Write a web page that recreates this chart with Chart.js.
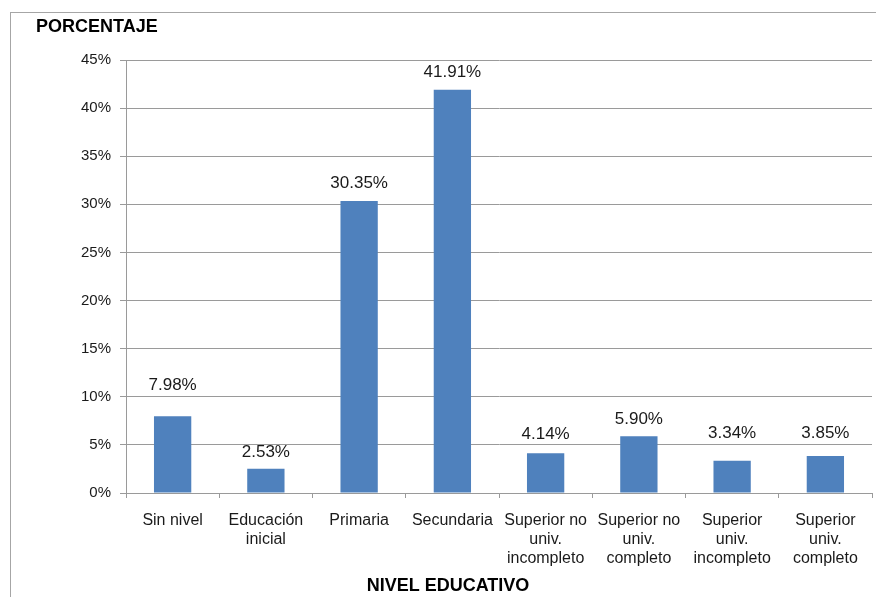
<!DOCTYPE html>
<html>
<head>
<meta charset="utf-8">
<script src="https://cdn.jsdelivr.net/npm/chart.js@4/dist/chart.umd.min.js"></script>
<style>
  html, body { margin: 0; padding: 0; background: #fff; overflow: hidden; }
  #frame { position: absolute; left: 10px; top: 12px; width: 900px; height: 600px; border: 1px solid #a6a6a6; }
  #wrap { position: absolute; left: 0; top: 0; width: 876px; height: 597px; }
</style>
</head>
<body>
<div id="frame"></div>
<div id="wrap"><canvas id="chart"></canvas></div>
<script>
// ── Data ──────────────────────────────────────────────────────────────────────
const categories = [
    "Sin nivel",
    ["Educación", "inicial"],
    "Primaria",
    "Secundaria",
    ["Superior no", "univ.", "incompleto"],
    ["Superior no", "univ.", "completo"],
    ["Superior", "univ.", "incompleto"],
    ["Superior", "univ.", "completo"],
];
const percentages = [7.98, 2.53, 30.35, 41.91, 4.14, 5.90, 3.34, 3.85];
const yTicks      = [0, 5, 10, 15, 20, 25, 30, 35, 40, 45];

// label distance above each bar (px), as placed in the original
const labelLift = [31, 16, 18, 17, 19, 17, 28, 23];

const FONT = "'Liberation Sans', Arial, sans-serif";
const GRID = "#9a9a9a";

// ── Plugins ───────────────────────────────────────────────────────────────────
const barLabels = {
    id: "barLabels",
    afterDatasetsDraw(chart) {
        const ctx  = chart.ctx;
        const meta = chart.getDatasetMeta(0);
        ctx.save();
        ctx.font = "17px " + FONT;
        ctx.fillStyle = "#1a1a1a";
        ctx.textAlign = "center";
        ctx.textBaseline = "middle";
        meta.data.forEach((bar, i) => {
            ctx.fillText(percentages[i].toFixed(2) + "%", bar.x, bar.y - labelLift[i]);
        });
        ctx.restore();
    },
};

const axisTitles = {
    id: "axisTitles",
    afterDraw(chart) {
        const ctx = chart.ctx;
        ctx.save();
        ctx.font = "bold 18px " + FONT;
        ctx.fillStyle = "#000";
        ctx.textBaseline = "middle";
        ctx.textAlign = "left";
        ctx.fillText("PORCENTAJE", 36, 27);
        ctx.textAlign = "center";
        ctx.fillText("NIVEL EDUCATIVO", 448, 586);
        ctx.restore();
    },
};

// ── Chart ─────────────────────────────────────────────────────────────────────
new Chart(document.getElementById("chart"), {
    type: "bar",
    data: {
        labels: categories,
        datasets: [{
            data: percentages,
            backgroundColor: "#4f81bd",
            borderWidth: 0,
            barPercentage: 0.8,
            categoryPercentage: 0.5,
        }],
    },
    options: {
        responsive: true,
        maintainAspectRatio: false,
        animation: false,
        layout: { padding: { top: 60, right: 4, left: 0, bottom: 0 } },
        plugins: { legend: { display: false }, tooltip: { enabled: false } },
        scales: {
            x: {
                afterFit: s => { s.height = 104; },
                grid: { drawOnChartArea: false, drawTicks: true, tickLength: 5, color: GRID, offset: true },
                border: { color: GRID },
                ticks: {
                    color: "#1a1a1a",
                    font: { family: FONT, size: 16, lineHeight: 1.19 },
                    padding: 13,
                    maxRotation: 0,
                    autoSkip: false,
                },
            },
            y: {
                min: 0,
                max: 45,
                afterFit: s => { s.width = 126; },
                afterBuildTicks: s => { s.ticks = yTicks.map(v => ({ value: v })); },
                grid: { color: GRID, tickLength: 6 },
                border: { color: GRID },
                ticks: {
                    color: "#1a1a1a",
                    font: { family: FONT, size: 15 },
                    padding: 9,
                    callback: v => v + "%",
                },
            },
        },
    },
    plugins: [barLabels, axisTitles],
});
</script>
</body>
</html>
